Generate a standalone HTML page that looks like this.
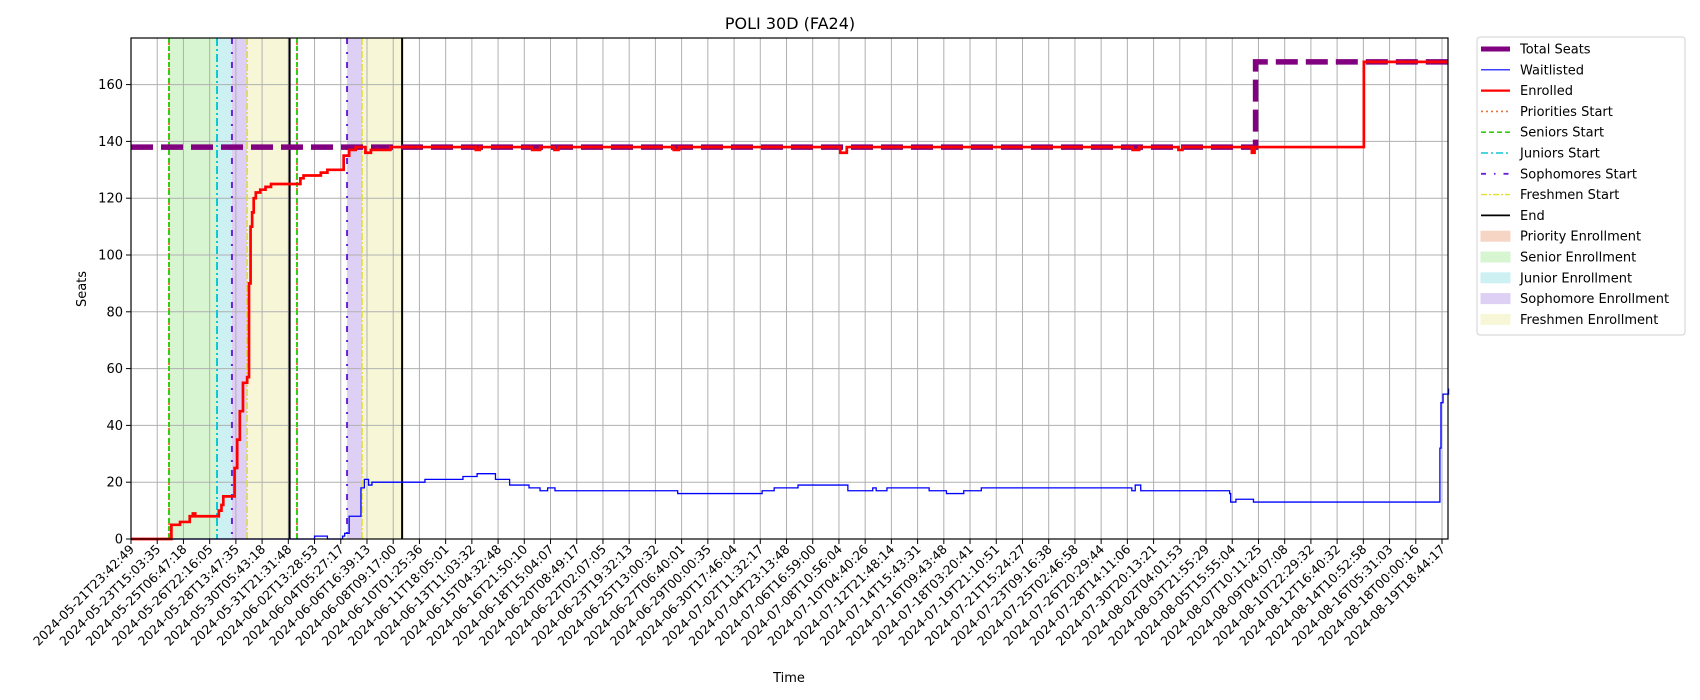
<!DOCTYPE html>
<html><head><meta charset="utf-8"><style>
html,body{margin:0;padding:0;background:#fff;}
svg{display:block;font-family:"DejaVu Sans","Liberation Sans",sans-serif;}
</style></head><body>
<svg id="chart" width="1700" height="700" xmlns="http://www.w3.org/2000/svg">
<text x="790" y="29" font-size="16" text-anchor="middle">POLI 30D (FA24)</text>
<text x="789" y="682" font-size="13" text-anchor="middle">Time</text>
<text x="86" y="289" font-size="13" text-anchor="middle" transform="rotate(-90 86 289)">Seats</text>
<g id="spans"></g><g id="grid"></g><g id="vlines"></g><g id="series"></g><g id="axes"></g><g id="legend"></g>
</svg>
<script>
const tickLabels=["2024-05-21T23:42:49","2024-05-23T15:03:35","2024-05-25T06:47:18","2024-05-26T22:16:05","2024-05-28T13:47:35","2024-05-30T05:43:18","2024-05-31T21:31:48","2024-06-02T13:28:53","2024-06-04T05:27:17","2024-06-06T16:39:13","2024-06-08T09:17:00","2024-06-10T01:25:36","2024-06-11T18:05:01","2024-06-13T11:03:32","2024-06-15T04:32:48","2024-06-16T21:50:10","2024-06-18T15:04:07","2024-06-20T08:49:17","2024-06-22T02:07:05","2024-06-23T19:32:13","2024-06-25T13:00:32","2024-06-27T06:40:01","2024-06-29T00:00:35","2024-06-30T17:46:04","2024-07-02T11:32:17","2024-07-04T23:13:48","2024-07-06T16:59:00","2024-07-08T10:56:04","2024-07-10T04:40:26","2024-07-12T21:48:14","2024-07-14T15:43:31","2024-07-16T09:43:48","2024-07-18T03:20:41","2024-07-19T21:10:51","2024-07-21T15:24:27","2024-07-23T09:16:38","2024-07-25T02:46:58","2024-07-26T20:29:44","2024-07-28T14:11:06","2024-07-30T20:13:21","2024-08-02T04:01:53","2024-08-03T21:55:29","2024-08-05T15:55:04","2024-08-07T10:11:25","2024-08-09T04:07:08","2024-08-10T22:29:32","2024-08-12T16:40:32","2024-08-14T10:52:58","2024-08-16T05:31:03","2024-08-18T00:00:16","2024-08-19T18:44:17"];
const yTicks=[0,20,40,60,80,100,120,140,160];
// x values in sample-index tick units
const totalX=[0,42.89,42.89,50.25];
const totalY=[138,138,168,168];
const enrolledX=[0,1.50,1.54,1.87,2.24,2.36,2.45,3.27,3.35,3.45,3.52,3.85,3.95,4.05,4.15,4.27,4.43,4.50,4.56,4.62,4.68,4.76,4.93,5.13,5.34,6.33,6.46,6.58,7.24,7.49,8.07,8.11,8.32,8.57,8.94,9.15,9.89,13.15,13.30,15.30,15.60,16.15,16.30,20.70,20.90,27.05,27.30,38.20,38.45,39.95,40.10,42.75,42.85,47.02,47.19,50.25];
const enrolledY=[0,0,5,6,8,9,8,8,10,12,15,15,25,35,45,55,57,90,110,115,120,122,123,124,125,125,127,128,129,130,130,135,137,138,136,137,138,137,138,137,138,137,138,137,138,136,138,137,138,137,138,136,138,168,168,168];
const waitX=[0,7.00,7.49,8.07,8.15,8.32,8.48,8.77,8.90,9.06,9.19,9.48,11.21,12.66,13.20,13.90,14.44,15.18,15.60,15.89,16.17,20.85,24.07,24.53,25.44,27.34,28.29,28.42,28.83,30.44,31.10,31.76,32.43,38.13,38.17,38.30,38.51,41.90,41.94,42.14,42.81,49.83,49.92,49.96,50.04,50.25];
const waitY=[0,1,0,1,2,8,8,18,21,19,20,20,21,22,23,21,19,18,17,18,17,16,17,18,19,17,18,17,18,17,16,17,18,18,17,19,17,16,13,14,13,13,32,48,51,53];
const spanStarts=[1.45,3.28,3.85,4.43,6.33,8.24,8.81];
const spanEnds=[3.28,3.85,4.43,6.05,6.33,8.81,10.34];
const spanKinds=["senior","junior","sophomore","freshmen","senior","sophomore","freshmen"];
const lineX=[1.45,1.45,3.28,3.85,4.43,6.05,6.33,6.33,8.24,8.81,10.34];
const lineKinds=["priorities","seniors","juniors","sophomores","freshmen","end","priorities","seniors","sophomores","freshmen","end"];

const L=131,R=1448,T=38,B=539,X0=131,XS=26.22;
const sx=v=>X0+v*XS, sy=v=>B-(v/160)*(B-84.6);
const NS="http://www.w3.org/2000/svg";
function mk(tag,attrs,parent){const e=document.createElementNS(NS,tag);for(const k in attrs)e.setAttribute(k,attrs[k]);parent.appendChild(e);return e;}
const spanFill={priority:"#f6d5c5",senior:"#d8f5d2",junior:"#cdf1f3",sophomore:"#ddd0f4",freshmen:"#f7f7d8"};
const lineStyle={priorities:["#e8743b","2,3",2],seniors:["#33cc11","5,3",2],juniors:["#11c6d6","8,3,2,3",2],sophomores:["#6a22d8","6,8,2,8",2],freshmen:["#e0e030","7,2,2,2",1.6],end:["#000","",2]};
const gS=document.getElementById('spans');
spanStarts.forEach((s,i)=>{const r=mk('rect',{x:sx(s),y:T,width:Math.max(sx(spanEnds[i])-sx(s),0.5),height:B-T,fill:spanFill[spanKinds[i]]},gS);

});
const gG=document.getElementById('grid');
tickLabels.forEach((t,i)=>{const l=mk('line',{x1:sx(i),x2:sx(i),y1:T,y2:B,stroke:"#b0b0b0","stroke-width":1},gG);

});
yTicks.forEach(v=>{const l=mk('line',{x1:L,x2:R,y1:sy(v),y2:sy(v),stroke:"#b0b0b0","stroke-width":1},gG);

});
const gV=document.getElementById('vlines');
lineX.forEach((x,i)=>{const st=lineStyle[lineKinds[i]];const l=mk('line',{x1:sx(x),x2:sx(x),y1:T,y2:B,stroke:st[0],"stroke-dasharray":st[1],"stroke-width":st[2]},gV);

});
function stepPath(xs,ys){let d="M"+sx(xs[0])+","+sy(ys[0]);for(let i=1;i<xs.length;i++){d+="L"+sx(xs[i])+","+sy(ys[i-1])+"L"+sx(xs[i])+","+sy(ys[i]);}return d;}
function linePath(xs,ys){return xs.map((x,i)=>(i?"L":"M")+sx(x)+","+sy(ys[i])).join("");}
const gSe=document.getElementById('series');
let p=mk('path',{d:stepPath(waitX,waitY),fill:"none",stroke:"#0000ff","stroke-width":1.3},gSe);


p=mk('path',{d:linePath(totalX,totalY),fill:"none",stroke:"#800080","stroke-width":5.5,"stroke-dasharray":"22,8"},gSe);


p=mk('path',{d:stepPath(enrolledX,enrolledY),fill:"none",stroke:"#ff0000","stroke-width":2.7},gSe);


const gA=document.getElementById('axes');
let fr=mk('rect',{x:L,y:T,width:R-L,height:B-T,fill:"none",stroke:"#000","stroke-width":1.2},gA);


yTicks.forEach(v=>{mk('line',{x1:L-5,x2:L,y1:sy(v),y2:sy(v),stroke:"#000"},gA);
const t=mk('text',{x:L-8,y:sy(v)+4.5,"font-size":13,"text-anchor":"end"},gA);t.textContent=v;

});
tickLabels.forEach((s,i)=>{const x=sx(i);mk('line',{x1:x,x2:x,y1:B,y2:B+5,stroke:"#000"},gA);
const t=mk('text',{x:x+4,y:B+11,"font-size":12.5,"text-anchor":"end",transform:`rotate(-45 ${x+4} ${B+11})`},gA);t.textContent=s;

});
const gL=document.getElementById('legend');
let bx=mk('rect',{x:1477,y:37,width:208,height:298,fill:"#fff",stroke:"#d0d0d0",rx:3},gL);


const leg=[["Total Seats","line","#800080","",5],["Waitlisted","line","#0000ff","",1.2],["Enrolled","line","#ff0000","",2.2],["Priorities Start","line","#e8743b","2,3",1.6],["Seniors Start","line","#33cc11","5,3",1.6],["Juniors Start","line","#11c6d6","7,3,2,3",1.6],["Sophomores Start","line","#6a22d8","5,8,1.5,8",1.8],["Freshmen Start","line","#e0e030","6,2,2,2",1.4],["End","line","#000","",1.8],["Priority Enrollment","rect","#f6d5c5"],["Senior Enrollment","rect","#d8f5d2"],["Junior Enrollment","rect","#cdf1f3"],["Sophomore Enrollment","rect","#ddd0f4"],["Freshmen Enrollment","rect","#f7f7d8"]];
leg.forEach((e,i)=>{const y=49+i*20.8;const g=mk('g',{},gL);


if(e[1]=="line")mk('line',{x1:1481,x2:1510,y1:y,y2:y,stroke:e[2],"stroke-dasharray":e[3],"stroke-width":e[4]},g);
else mk('rect',{x:1481,y:y-5,width:29,height:10,fill:e[2],stroke:e[2]},g);
const t=mk('text',{x:1520,y:y+4.5,"font-size":13},g);t.textContent=e[0];});
</script>
</body></html>
